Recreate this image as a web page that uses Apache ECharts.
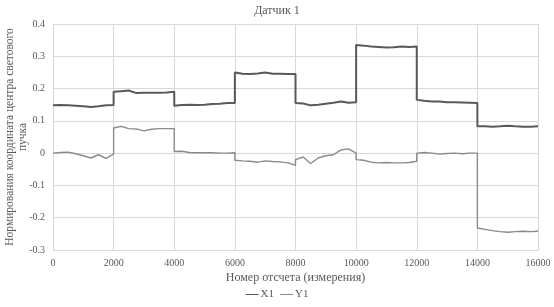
<!DOCTYPE html>
<html><head><meta charset="utf-8">
<script src="https://cdn.jsdelivr.net/npm/echarts@6/dist/echarts.min.js"></script>
<style>html,body{margin:0;padding:0;background:#fff}#c{width:554px;height:307px}</style>
</head><body><div id="c"></div>
<script>
var titleText = 'Датчик 1';
var xName = 'Номер отсчета (измерения)';
var yName = 'Нормирования координата центра светового\nпучка';
var seriesNames = ['X1', 'Y1'];
var xTicks = [0, 2000, 4000, 6000, 8000, 10000, 12000, 14000, 16000];
var yTicks = [-0.3, -0.2, -0.1, 0, 0.1, 0.2, 0.3, 0.4];

var xPos = [
 0,250,500,750,1000,1250,1500,1750,2000,
 2000,2250,2500,2750,3000,3250,3500,3750,4000,
 4000,4250,4500,4750,5000,5250,5500,5750,6000,
 6000,6250,6500,6750,7000,7250,7500,7750,8000,
 8000,8250,8500,8750,9000,9250,9500,9750,10000,
 10000,10250,10500,10750,11000,11250,11500,11750,12000,
 12000,12250,12500,12750,13000,13250,13500,13750,14000,
 14000,14250,14500,14750,15000,15250,15500,15750,16000
];
var x1Vals = [
 0.148,0.149,0.148,0.147,0.145,0.143,0.145,0.148,0.149,
 0.190,0.192,0.194,0.186,0.187,0.187,0.187,0.188,0.190,
 0.147,0.149,0.150,0.149,0.150,0.152,0.153,0.155,0.155,
 0.250,0.246,0.245,0.247,0.250,0.246,0.246,0.245,0.245,
 0.155,0.154,0.148,0.150,0.153,0.156,0.160,0.156,0.158,
 0.335,0.333,0.330,0.329,0.327,0.328,0.330,0.329,0.330,
 0.165,0.162,0.160,0.160,0.158,0.158,0.157,0.156,0.155,
 0.083,0.083,0.082,0.083,0.085,0.083,0.082,0.082,0.083
];
var y1Vals = [
 0.000,0.002,0.003,-0.002,-0.008,-0.015,-0.005,-0.016,-0.003,
 0.078,0.083,0.076,0.075,0.069,0.074,0.076,0.076,0.076,
 0.005,0.006,0.002,0.001,0.001,0.001,0.000,0.000,0.001,
 -0.022,-0.024,-0.025,-0.028,-0.024,-0.026,-0.027,-0.030,-0.038,
 -0.020,-0.012,-0.032,-0.015,-0.008,-0.005,0.010,0.013,0.000,
 -0.020,-0.022,-0.028,-0.030,-0.029,-0.030,-0.030,-0.029,-0.025,
 0.000,0.002,0.000,-0.003,-0.001,0.000,-0.002,0.000,0.000,
 -0.232,-0.236,-0.240,-0.243,-0.245,-0.243,-0.242,-0.243,-0.242
];

function pairs(xs, ys){ return xs.map(function(x,i){return [x, ys[i]];}); }
var font = 'Liberation Serif';
var chart = echarts.init(document.getElementById('c'));
chart.setOption({
  animation: false,
  textStyle: {fontFamily: font},
  title: {text: titleText, left: 'center', top: 0,
    textStyle: {fontFamily: font, fontSize: 12, fontWeight: 'normal', color: '#595959'}},
  grid: {left: 53, right: 16, top: 24, bottom: 57, containLabel: false, outerBoundsMode: 'none'},
  legend: {bottom: 2, left: 'center', itemWidth: 13, itemHeight: 1, icon: 'rect', itemGap: 6,
    textStyle: {fontFamily: font, fontSize: 11, color: '#595959', padding: [0, 0, 0, -3]}, data: seriesNames},
  xAxis: {type: 'value', min: xTicks[0], max: xTicks[xTicks.length-1], interval: 2000,
    name: xName, nameLocation: 'middle', nameGap: 22, nameMoveOverlap: false,
    nameTextStyle: {fontFamily: font, fontSize: 12, color: '#595959'},
    axisLine: {show: false}, axisTick: {show: false},
    axisLabel: {fontFamily: font, fontSize: 10, color: '#595959', margin: 8,
      formatter: function(v){ return String(v); }},
    splitLine: {show: true, lineStyle: {color: '#d9d9d9', width: 1}}},
  yAxis: {type: 'value', min: -0.3, max: 0.4, interval: 0.1,
    name: yName, nameLocation: 'middle', nameGap: 24, nameRotate: 90, nameMoveOverlap: false,
    nameTextStyle: {fontFamily: font, fontSize: 11.5, color: '#595959', lineHeight: 13},
    axisLine: {show: false}, axisTick: {show: false},
    axisLabel: {fontFamily: font, fontSize: 10, color: '#595959', margin: 8,
      formatter: function(v){ return (Math.round(v*10)/10).toString(); }},
    splitLine: {show: true, lineStyle: {color: '#d9d9d9', width: 1}}},
  series: [
    {name: seriesNames[0], type: 'line', data: pairs(xPos, x1Vals), showSymbol: false, symbol: 'none',
      lineStyle: {color: '#595959', width: 2}, itemStyle: {color: '#595959'}},
    {name: seriesNames[1], type: 'line', data: pairs(xPos, y1Vals), showSymbol: false, symbol: 'none',
      lineStyle: {color: '#8a8a8a', width: 1.4}, itemStyle: {color: '#8a8a8a'}}
  ]
});
</script></body></html>
